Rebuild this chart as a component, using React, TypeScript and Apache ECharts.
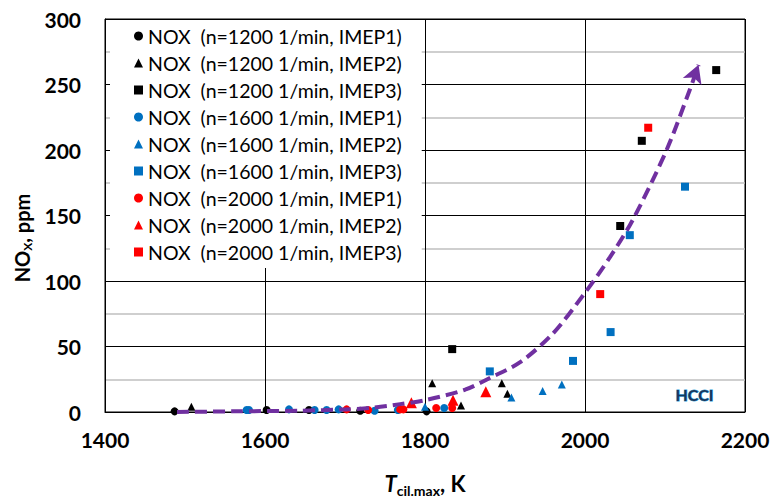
import React, { useEffect, useRef } from "react";
import * as echarts from "echarts";

const xTicks = [1400, 1600, 1800, 2000, 2200];
const yTicks = [0, 50, 100, 150, 200, 250, 300];

const names = [
  "NOX  (n=1200 1/min, IMEP1)",
  "NOX  (n=1200 1/min, IMEP2)",
  "NOX  (n=1200 1/min, IMEP3)",
  "NOX  (n=1600 1/min, IMEP1)",
  "NOX  (n=1600 1/min, IMEP2)",
  "NOX  (n=1600 1/min, IMEP3)",
  "NOX  (n=2000 1/min, IMEP1)",
  "NOX  (n=2000 1/min, IMEP2)",
  "NOX  (n=2000 1/min, IMEP3)",
];

const n1200imep1 = [[1487, 0.5], [1602, 1.5], [1655, 1.5], [1719, 1], [1802, 0.5]];
const n1200imep2 = [[1508, 4], [1809, 22], [1845, 5], [1896, 22], [1903, 14]];
const n1200imep3 = [[1834, 48], [2044, 142], [2071, 207], [2164, 261]];
const n1600imep1 = [[1577, 1.5], [1580, 1.5], [1630, 2], [1662, 1.5], [1677, 1.5], [1692, 2], [1737, 1], [1766, 1.5], [1824, 3]];
const n1600imep2 = [[1800, 4], [1908, 11], [1947, 16], [1971, 21]];
const n1600imep3 = [[1881, 31], [1985, 39], [2032, 61], [2056, 135], [2125, 172]];
const n2000imep1 = [[1702, 2], [1729, 1.5], [1769, 2], [1773, 2], [1814, 3], [1834, 3]];
const n2000imep2 = [[1783, 7], [1835, 9], [1876, 15.5]];
const n2000imep3 = [[2019, 90], [2079, 217]];

const trend = [
  [1490, 0], [1560, 0.5], [1644, 1], [1700, 2], [1730, 3], [1769, 6], [1800, 9],
  [1850, 17], [1881, 26], [1919, 38], [1960, 60], [2000, 91], [2031, 118],
  [2060, 147], [2102, 200], [2131, 246], [2142, 265],
];

const seriesData = [n1200imep1, n1200imep2, n1200imep3, n1600imep1, n1600imep2, n1600imep3, n2000imep1, n2000imep2, n2000imep3];
const colors = ["#000000", "#000000", "#000000", "#0070C0", "#0070C0", "#0070C0", "#FF0000", "#FF0000", "#FF0000"];
const symbols = ["circle", "triangle", "rect", "circle", "triangle", "rect", "circle", "triangle", "rect"];
const sizes = [8, 8, 8, 8, 8, 8, 8, 11, 8];

const FONT = "Lato, 'Open Sans', sans-serif";

export default function App() {
  const ref = useRef<HTMLDivElement>(null);
  useEffect(() => {
    if (!ref.current) return;
    const chart = echarts.init(ref.current, null, { renderer: "svg" });
    const scatter = seriesData.map((d, i) => ({
      type: "scatter",
      name: names[i],
      data: d,
      symbol: symbols[i],
      symbolSize: sizes[i],
      itemStyle: { color: colors[i], opacity: 1 },
      z: 3,
    }));
    const trendData = trend.map((p, i) =>
      i === trend.length - 1
        ? { value: p, symbol: "arrow", symbolSize: [15, 18], symbolRotate: -21 }
        : { value: p }
    );
    chart.setOption({
      animation: false,
      textStyle: { fontFamily: FONT },
      grid: { left: 105, right: 28, top: 19, bottom: 86, show: true, borderColor: "#000", borderWidth: 1, outerBoundsMode: "none" },
      xAxis: {
        type: "value",
        min: xTicks[0],
        max: xTicks[xTicks.length - 1],
        interval: 200,
        axisLine: { show: true, lineStyle: { color: "#000", width: 1 } },
        axisTick: { show: false },
        axisLabel: { color: "#000", fontSize: 21, fontWeight: "bold", margin: 17, fontFamily: FONT, formatter: (v: number) => String(v) },
        splitLine: { show: true, lineStyle: { color: "#000", width: 1 } },
        name: "{t|T}{s|cil.max}{n|, K}",
        nameLocation: "middle",
        nameGap: 57,
        nameTextStyle: {
          rich: {
            t: { fontSize: 22, fontStyle: "italic", fontWeight: "bold", color: "#000", lineHeight: 28, fontFamily: FONT },
            s: { fontSize: 14, fontWeight: "bold", color: "#000", lineHeight: 14, verticalAlign: "bottom", fontFamily: FONT },
            n: { fontSize: 22, fontWeight: "bold", color: "#000", lineHeight: 28, fontFamily: FONT },
          },
        },
      },
      yAxis: {
        type: "value",
        min: yTicks[0],
        max: yTicks[yTicks.length - 1],
        interval: 50,
        axisLine: { show: true, lineStyle: { color: "#000", width: 1 } },
        axisTick: { show: false },
        axisLabel: { color: "#000", fontSize: 21, fontWeight: "bold", margin: 24, fontFamily: FONT },
        splitLine: { show: true, lineStyle: { color: "#000", width: 1 } },
        minorTick: { show: false, splitNumber: 2 },
        minorSplitLine: { show: true, lineStyle: { color: "#BFBFBF", width: 1.5 } },
      },
      legend: {
        data: names,
        orient: "vertical",
        left: 110,
        top: 20,
        padding: [6, 20, 6, 24],
        backgroundColor: "#fff",
        itemWidth: 9,
        itemHeight: 9,
        itemGap: 7,
        textStyle: { fontSize: 19.5, color: "#000", lineHeight: 18, fontFamily: FONT },
        z: 10,
      },
      graphic: [
        {
          type: "text",
          x: 22,
          y: 238,
          rotation: Math.PI / 2,
          z: 20,
          style: {
            text: "{a|NO}{b|X}{a|, ppm}",
            align: "center",
            verticalAlign: "middle",
            rich: {
              a: { fontSize: 20, fontWeight: "bold", fill: "#000", lineHeight: 22, fontFamily: FONT },
              b: { fontSize: 12, fontWeight: "bold", fill: "#000", lineHeight: 12, verticalAlign: "bottom", fontFamily: FONT },
            },
          },
        },
        {
          type: "text",
          left: 675,
          top: 386,
          z: 20,
          style: {
            text: "HCCI",
            font: "bold 16px Lato, sans-serif",
            fill: "#16365C",
            stroke: "#2FA0DA",
            lineWidth: 1,
          },
        },
      ],
      series: [
        ...scatter,
        {
          type: "line",
          name: "trend",
          data: trendData,
          smooth: 0.3,
          symbol: "none",
          color: "#7030A0",
          lineStyle: { color: "#7030A0", width: 4, type: [12, 6] },
          itemStyle: { color: "#7030A0" },
          z: 5,
        },
      ],
    });
    return () => chart.dispose();
  }, []);
  return <div ref={ref} style={{ position: "absolute", left: 0, top: 0, width: 773, height: 498 }} />;
}
